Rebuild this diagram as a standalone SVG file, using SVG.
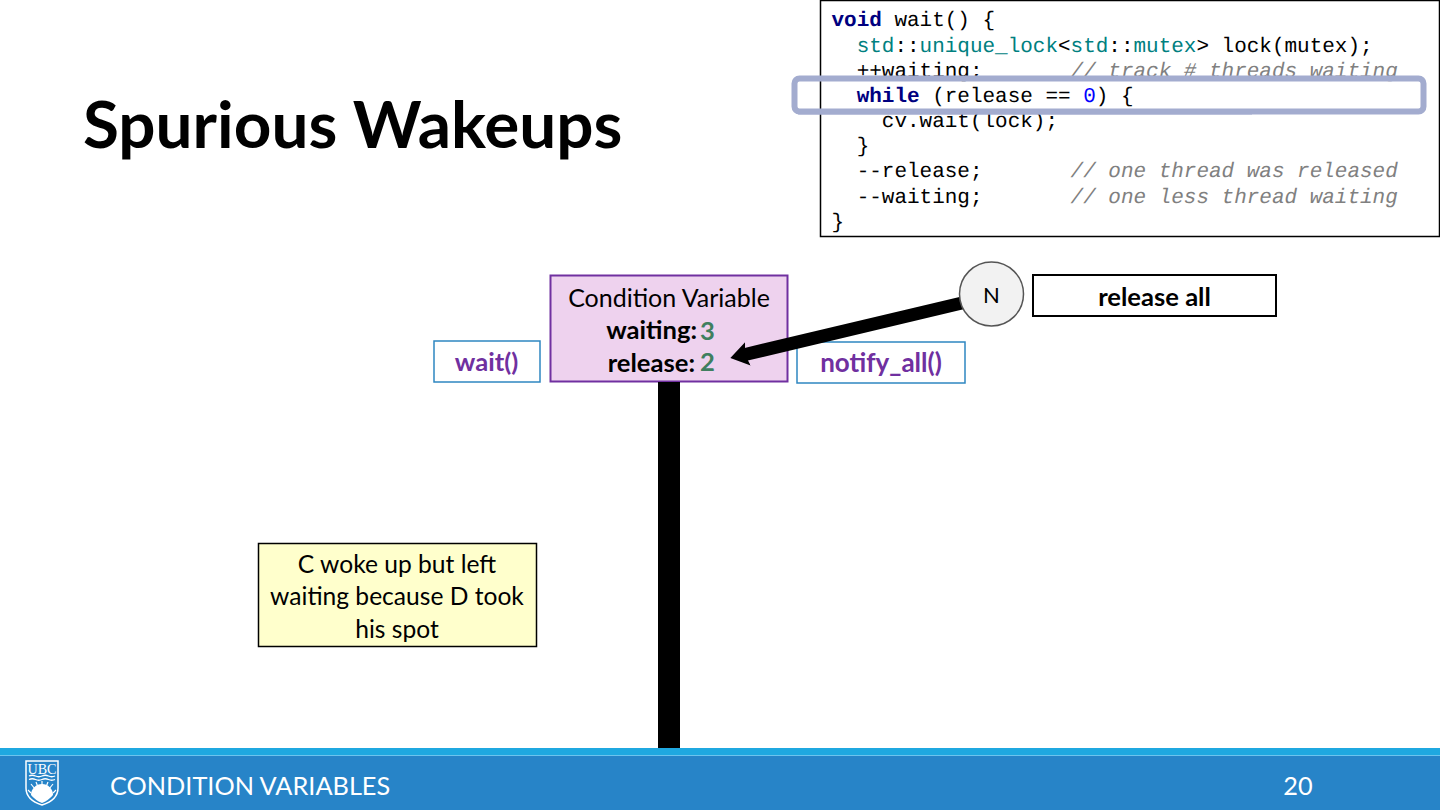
<svg xmlns="http://www.w3.org/2000/svg" width="1440" height="810" viewBox="0 0 1440 810">
<style>
.c{font-family:"Liberation Mono",monospace;font-size:20.98px;fill:#000;white-space:pre;text-rendering:geometricPrecision}
.l{font-family:Lato,"Liberation Sans",sans-serif}
.k{fill:#000080;font-weight:bold}.t{fill:#008080}.g{fill:#808080;font-style:italic}.n{fill:#0000ff}
.m{text-anchor:middle}
.r{font-size:25px}
.s{font-size:24.6px}
.b{font-size:25.6px;font-weight:bold}
.p{fill:#7030a0}.v{fill:#3f7f5f}
</style>
<defs>
<marker id="ah" markerUnits="userSpaceOnUse" markerWidth="20" markerHeight="28" refX="6" refY="14" orient="auto"><path d="M0 2L18 14L0 26L3 14Z" fill="#000"/></marker>
</defs>
<rect width="1440" height="810" fill="#fff"/>
<text x="83" y="148" class="l" font-size="65.6" font-weight="bold" fill="#000">Spurious Wakeups</text>

<g id="code">
<rect x="820.500" y="0.500" width="619" height="236" fill="#fff" stroke="#000" stroke-width="1.500"/>
<text class="c" x="831.500" y="26"><tspan class="k">void</tspan> wait() {</text>
<text class="c" x="831.500" y="51.500">  <tspan class="t">std</tspan>::<tspan class="t">unique_lock</tspan>&lt;<tspan class="t">std</tspan>::<tspan class="t">mutex</tspan>&gt; lock(mutex);</text>
<text class="c" x="831.500" y="77">  ++waiting;       <tspan class="g">// track # threads waiting</tspan></text>
<text class="c" x="831.500" y="102">  <tspan class="k">while</tspan> (release == <tspan class="n">0</tspan>) {</text>
<text class="c" x="831.500" y="127">    cv.wait(lock);</text>
<text class="c" x="831.500" y="152">  }</text>
<text class="c" x="831.500" y="177">  --release;       <tspan class="g">// one thread was released</tspan></text>
<text class="c" x="831.500" y="202.500">  --waiting;       <tspan class="g">// one less thread waiting</tspan></text>
<text class="c" x="831.500" y="228">}</text>
</g>
<g id="highlight">
<rect x="794.500" y="78.500" width="629" height="33" rx="5" fill="none" stroke="#a3accf" stroke-width="6"/>
<line x1="798" y1="113.500" x2="1252" y2="113.500" stroke="#a3accf" stroke-width="2"/>
</g>

<g id="cv">
<rect x="550.500" y="275.500" width="237" height="106" fill="#eed2ee" stroke="#7030a0" stroke-width="2"/>
<text x="669" y="307" class="l m r" fill="#000">Condition Variable</text>
<text x="697" y="339" class="l b" fill="#000" text-anchor="end">waiting:</text>
<text x="695" y="372" class="l b" fill="#000" text-anchor="end">release:</text>
<text x="700" y="340" class="l b v">3</text>
<text x="700" y="371" class="l b v">2</text>
</g>
<g id="wait">
<rect x="434" y="341" width="106" height="41" fill="#fff" stroke="#2e86c1" stroke-width="1.500"/>
<text x="486.500" y="371" class="l m b p">wait()</text>
</g>
<g id="notify">
<rect x="797" y="342" width="168" height="41" fill="#fff" stroke="#2e86c1" stroke-width="1.500"/>
<text x="881" y="372" class="l m b p" style="font-size:26px">notify_all()</text>
</g>
<g id="connectors">
<rect x="658" y="382" width="22" height="366" fill="#000"/>
<line x1="962" y1="303" x2="742" y2="355.200" stroke="#000" stroke-width="13" marker-end="url(#ah)"/>
</g>
<g id="N">
<circle cx="991.500" cy="294" r="32" fill="#f2f2f2" stroke="#555" stroke-width="1.500"/>
<text x="991.500" y="303" class="l m" font-size="22" fill="#000">N</text>
</g>
<g id="release-all">
<rect x="1033" y="275" width="243" height="41" fill="#fff" stroke="#000" stroke-width="2"/>
<text x="1154.500" y="306" class="l m b" fill="#000">release all</text>
</g>
<g id="note">
<rect x="258.500" y="543.500" width="278" height="103" fill="#ffffcc" stroke="#000" stroke-width="1.500"/>
<text class="l m s" fill="#000"><tspan x="397" y="573">C woke up but left</tspan><tspan x="397" y="605">waiting because D took</tspan><tspan x="397" y="638">his spot</tspan></text>
</g>

<g id="footer">
<rect x="0" y="748" width="1440" height="7" fill="#1fa8e0"/>
<rect x="0" y="755" width="1440" height="55" fill="#2784c8"/>
<rect x="0" y="755" width="1440" height="1" fill="#6cc4ee"/>
<path d="M26 761H58V788Q58 800 42 805Q26 800 26 788Z" fill="#2784c8" stroke="#fff" stroke-width="1.500"/>
<path d="M31 795A11 11 0 0 1 53 795Q49 800 42 803Q35 800 31 795Z" fill="#fff"/>
<path d="M42 787V781M35 789L31 784M49 789L53 784M31 793L28 790M53 793L56 790M38 787L36 782M46 787L48 782" stroke="#fff" stroke-width="1.200" fill="none"/>
<path d="M29 776q3.250 -1.500 6.500 0t6.500 0t6.500 0t6.500 0M29 779.500q3.250 -1.500 6.500 0t6.500 0t6.500 0t6.500 0" stroke="#fff" stroke-width="1.300" fill="none"/>
<text x="42" y="773.500" class="m" font-family="Liberation Serif,serif" font-size="15" fill="#fff" textLength="29" lengthAdjust="spacingAndGlyphs">UBC</text>
<text x="110" y="795" class="l" font-size="25.300" fill="#fff">CONDITION VARIABLES</text>
<text x="1298" y="795" class="l m" font-size="25.300" fill="#fff">20</text>
</g>
</svg>
